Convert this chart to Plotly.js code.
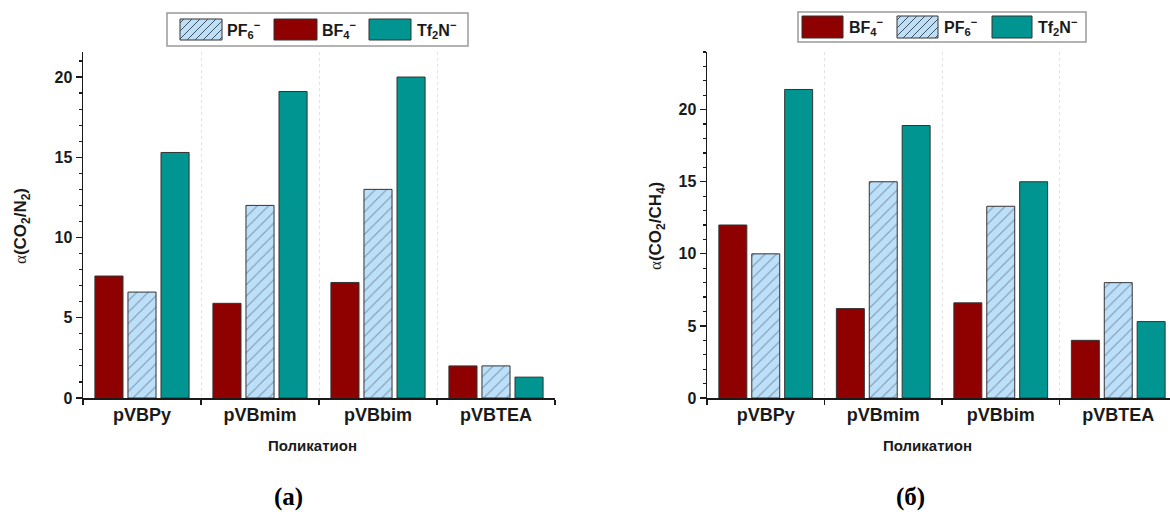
<!DOCTYPE html>
<html>
<head>
<meta charset="utf-8">
<script src="https://cdn.plot.ly/plotly-3.0.1.min.js"></script>
<style>html,body{margin:0;padding:0;background:#fff;}</style>
</head>
<body>
<div id="chart" style="width:1170px;height:512px;"></div>
<script>
// Polycations on the category axis
const cations = ['pVBPy', 'pVBmim', 'pVBbim', 'pVBTEA'];

// (a) CO2/N2 selectivity by anion
const n2BF4 = [7.6, 5.9, 7.2, 2.0];
const n2PF6 = [6.6, 12.0, 13.0, 2.0];
const n2Tf2N = [15.3, 19.1, 20.0, 1.3];

// (б) CO2/CH4 selectivity by anion
const ch4BF4 = [12.0, 6.2, 6.6, 4.0];
const ch4PF6 = [10.0, 15.0, 13.3, 8.0];
const ch4Tf2N = [21.4, 18.9, 15.0, 5.3];

// Anion labels
const lblBF4 = 'BF<sub>4</sub><sup>−</sup>';
const lblPF6 = 'PF<sub>6</sub><sup>−</sup>';
const lblTf2N = 'Tf<sub>2</sub>N<sup>−</sup>';

const W = 1170, H = 512;
const px = v => v / W;
const py = v => 1 - v / H;

const RED = '#8f0000';
const TEAL = '#009591';
const BLUE = '#bcdffa';
const EDGE = '#333333';
const HATCH = '#46505a';
const FONT = 'Liberation Sans, Arial, sans-serif';

function barTrace(y, name, color, hatched, xa, ya) {
  const marker = {color: color, line: {color: EDGE, width: 1}};
  if (hatched) {
    marker.pattern = {shape: '/', fgcolor: HATCH, size: 8, solidity: 0.14, fillmode: 'overlay'};
  }
  return {type: 'bar', x: cations, y: y, name: name, marker: marker,
          xaxis: xa, yaxis: ya, showlegend: false};
}

const data = [
  barTrace(n2BF4, lblBF4, RED, false, 'x', 'y'),
  barTrace(n2PF6, lblPF6, BLUE, true, 'x', 'y'),
  barTrace(n2Tf2N, lblTf2N, TEAL, false, 'x', 'y'),
  barTrace(ch4BF4, lblBF4, RED, false, 'x2', 'y2'),
  barTrace(ch4PF6, lblPF6, BLUE, true, 'x2', 'y2'),
  barTrace(ch4Tf2N, lblTf2N, TEAL, false, 'x2', 'y2')
];

const yDom = [py(398), py(52)];

function xAxis(domain, range) {
  return {
    domain: domain, range: range, type: 'category',
    showline: true, linecolor: '#1a1a1a', linewidth: 1.5,
    ticks: 'outside', tickson: 'boundaries', ticklen: 5, tickwidth: 1.2, tickcolor: '#1a1a1a',
    showgrid: true, gridcolor: '#e2e2e2', griddash: 'dot', gridwidth: 1,
    tickfont: {family: FONT, size: 18, color: '#1a1a1a', weight: 'bold'},
    zeroline: false, fixedrange: true
  };
}
function yAxis(range, anchor) {
  return {
    domain: yDom, range: range, anchor: anchor,
    showline: true, linecolor: '#1a1a1a', linewidth: 1.5,
    ticks: 'outside', ticklen: 6, tickwidth: 1.2, tickcolor: '#1a1a1a',
    dtick: 5, tick0: 0,
    minor: {dtick: 1, ticks: 'outside', ticklen: 3, tickcolor: '#1a1a1a', showgrid: false},
    showgrid: false, zeroline: false,
    tickfont: {family: FONT, size: 16, color: '#1a1a1a', weight: 'bold'},
    fixedrange: true
  };
}

// Legend boxes drawn with shapes so the swatches keep their wide proportions
const shapes = [];
const annotations = [];

function hatchLines(x0, x1, y0, y1, step) {
  // "/" lines satisfy x + y = c in pixel space (y grows downward)
  for (let c = x0 + y0 + step / 2; c < x1 + y1; c += step) {
    const xa = Math.max(x0, c - y1), xb = Math.min(x1, c - y0);
    if (xb <= xa) continue;
    shapes.push({type: 'line', xref: 'paper', yref: 'paper',
      x0: px(xa), y0: py(c - xa), x1: px(xb), y1: py(c - xb),
      line: {color: HATCH, width: 1}});
  }
}

function legendBox(box, items) {
  shapes.push({type: 'rect', xref: 'paper', yref: 'paper',
    x0: px(box[0]), x1: px(box[1]), y0: py(box[3]), y1: py(box[2]),
    line: {color: '#9a9a9a', width: 1.5}, fillcolor: '#ffffff'});
  items.forEach(it => {
    shapes.push({type: 'rect', xref: 'paper', yref: 'paper',
      x0: px(it.sx[0]), x1: px(it.sx[1]), y0: py(it.sy[1]), y1: py(it.sy[0]),
      line: {color: EDGE, width: 1}, fillcolor: it.color});
    if (it.hatched) hatchLines(it.sx[0], it.sx[1], it.sy[0], it.sy[1], 8);
    annotations.push({xref: 'paper', yref: 'paper', x: px(it.tx), y: py((it.sy[0] + it.sy[1]) / 2),
      xanchor: 'left', yanchor: 'middle', showarrow: false, text: it.label,
      font: {family: FONT, size: 16, color: '#1a1a1a', weight: 'bold'}});
  });
}

legendBox([167, 468, 13, 46], [
  {sx: [180, 222], sy: [19, 40], tx: 225, color: BLUE, hatched: true, label: lblPF6},
  {sx: [274, 317], sy: [19, 40], tx: 320, color: RED, hatched: false, label: lblBF4},
  {sx: [369, 411], sy: [19, 40], tx: 415, color: TEAL, hatched: false, label: lblTf2N}
]);
legendBox([798, 1086, 12, 42], [
  {sx: [802, 843], sy: [16, 38], tx: 847, color: RED, hatched: false, label: lblBF4},
  {sx: [897, 938], sy: [16, 38], tx: 942, color: BLUE, hatched: true, label: lblPF6},
  {sx: [992, 1032], sy: [16, 38], tx: 1036, color: TEAL, hatched: false, label: lblTf2N}
]);

// Axis titles and panel captions
const alpha = "<span style='font-family:Liberation Serif;font-weight:normal'>α</span>";
const titleFont = {family: FONT, size: 17, color: '#1a1a1a', weight: 'bold'};
function note(x, y, text, opts) {
  annotations.push(Object.assign({xref: 'paper', yref: 'paper', x: px(x), y: py(y),
    xanchor: 'center', yanchor: 'middle', showarrow: false, text: text,
    font: {family: FONT, size: 15, color: '#1a1a1a', weight: 'bold'}}, opts || {}));
}
note(22, 226, alpha + '(CO<sub>2</sub>/N<sub>2</sub>)', {textangle: -90, font: titleFont});
note(657, 226, alpha + '(CO<sub>2</sub>/CH<sub>4</sub>)', {textangle: -90, font: titleFont});
note(312, 445, 'Поликатион', {font: {family: FONT, size: 15, color: '#1a1a1a', weight: 'bold'}});
note(927, 445, 'Поликатион', {font: {family: FONT, size: 15, color: '#1a1a1a', weight: 'bold'}});
note(288, 497, '(a)', {font: {family: 'Liberation Serif, Times New Roman, serif', size: 25, color: '#000', weight: 'bold'}});
note(910, 497, '(б)', {font: {family: 'Liberation Serif, Times New Roman, serif', size: 25, color: '#000', weight: 'bold'}});

const layout = {
  width: W, height: H,
  margin: {l: 0, r: 0, t: 0, b: 0},
  paper_bgcolor: '#ffffff', plot_bgcolor: '#ffffff',
  barmode: 'group', bargap: 0.16, bargroupgap: 0.15,
  showlegend: false,
  xaxis: Object.assign(xAxis([px(83), px(555)], [-0.5, 3.5]), {anchor: 'y'}),
  yaxis: yAxis([0, 21.56], 'x'),
  xaxis2: Object.assign(xAxis([px(707), 1], [-0.5, -0.5 + (W - 707) / 117.5]), {anchor: 'y2'}),
  yaxis2: yAxis([0, 24.0], 'x2'),
  shapes: shapes,
  annotations: annotations
};

Plotly.newPlot('chart', data, layout, {staticPlot: true, displayModeBar: false});
</script>
</body>
</html>
